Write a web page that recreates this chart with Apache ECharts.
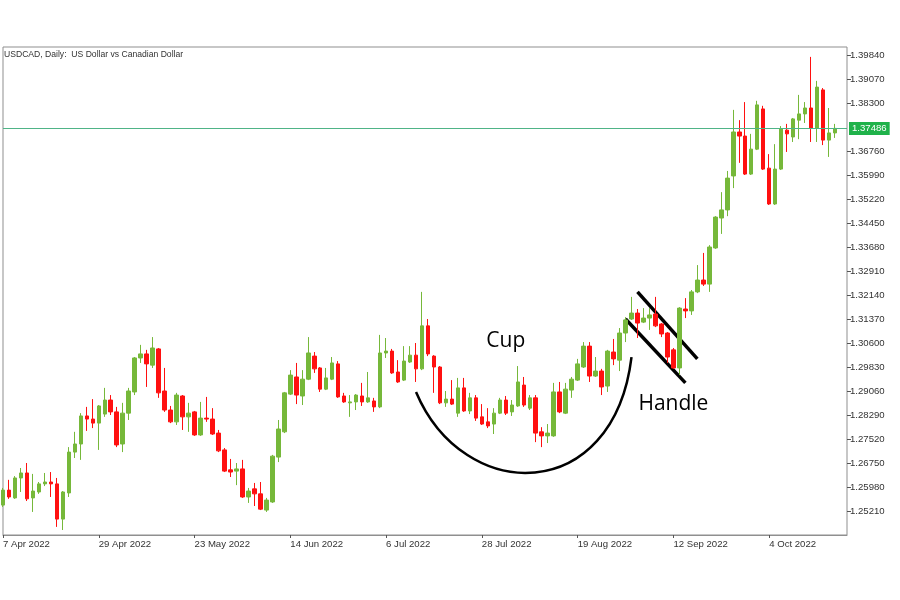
<!DOCTYPE html>
<html>
<head>
<meta charset="utf-8">
<title>USDCAD Daily</title>
<script src="https://cdn.jsdelivr.net/npm/echarts@6/dist/echarts.min.js"></script>
<style>
  html, body { margin: 0; padding: 0; background: #fff; }
  #chart { width: 900px; height: 600px; }
</style>
</head>
<body>
<div id="chart"></div>
<script>
// daily candles, USDCAD from 7 Apr 2022
var opens = [
  1.2540, 1.2588, 1.2563, 1.2627, 1.2643, 1.2563, 1.2582, 1.2608, 1.2614, 1.2608,
  1.2495, 1.2579, 1.2710, 1.2736, 1.2826, 1.2816, 1.2803, 1.2832, 1.2877, 1.2839,
  1.2736, 1.2835, 1.2903, 1.3012, 1.3025, 1.2989, 1.3041, 1.2906, 1.2845, 1.2807,
  1.2890, 1.2823, 1.2839, 1.2765, 1.2819, 1.2816, 1.2771, 1.2717, 1.2653, 1.2649,
  1.2656, 1.2566, 1.2592, 1.2576, 1.2524, 1.2550, 1.2694, 1.2775, 1.2896, 1.2951,
  1.2890, 1.2944, 1.3018, 1.2980, 1.2912, 1.2944, 1.2993, 1.2890, 1.2868, 1.2871,
  1.2890, 1.2871, 1.2874, 1.2855, 1.3028, 1.3034, 1.2967, 1.2941, 1.2999, 1.3021,
  1.2977, 1.3115, 1.3018, 1.2983, 1.2868, 1.2880, 1.2835, 1.2916, 1.2842, 1.2884,
  1.2823, 1.2807, 1.2800, 1.2835, 1.2877, 1.2839, 1.2858, 1.2925, 1.2851, 1.2884,
  1.2775, 1.2762, 1.2762, 1.2903, 1.2835, 1.2909, 1.2941, 1.2983, 1.3050, 1.2954,
  1.2970, 1.2922, 1.3031, 1.3005, 1.3092, 1.3137, 1.3156, 1.3127, 1.3140, 1.3153,
  1.3121, 1.3092, 1.3038, 1.2980, 1.3169, 1.3163, 1.3224, 1.3262, 1.3249, 1.3365,
  1.3461, 1.3487, 1.3596, 1.3737, 1.3724, 1.3602, 1.3682, 1.3811, 1.3621, 1.3506,
  1.3618, 1.3743, 1.3721, 1.3775, 1.3795, 1.3814, 1.3750, 1.3872, 1.3711, 1.3734
];
var closes = [
  1.2588, 1.2566, 1.2627, 1.2643, 1.2560, 1.2585, 1.2608, 1.2614, 1.2608, 1.2495,
  1.2582, 1.2710, 1.2736, 1.2826, 1.2816, 1.2803, 1.2858, 1.2877, 1.2839, 1.2733,
  1.2835, 1.2906, 1.3012, 1.3025, 1.2993, 1.3044, 1.2900, 1.2845, 1.2807, 1.2893,
  1.2823, 1.2835, 1.2765, 1.2819, 1.2816, 1.2768, 1.2714, 1.2649, 1.2646, 1.2656,
  1.2566, 1.2585, 1.2576, 1.2527, 1.2556, 1.2697, 1.2784, 1.2900, 1.2957, 1.2893,
  1.2944, 1.3028, 1.2977, 1.2912, 1.2948, 1.2996, 1.2887, 1.2871, 1.2871, 1.2893,
  1.2871, 1.2884, 1.2855, 1.3028, 1.3034, 1.2964, 1.2935, 1.3002, 1.3021, 1.2977,
  1.3115, 1.3025, 1.2983, 1.2868, 1.2880, 1.2864, 1.2916, 1.2842, 1.2884, 1.2819,
  1.2800, 1.2794, 1.2835, 1.2877, 1.2835, 1.2861, 1.2935, 1.2861, 1.2884, 1.2771,
  1.2762, 1.2771, 1.2903, 1.2839, 1.2912, 1.2944, 1.2993, 1.3050, 1.2954, 1.2970,
  1.2919, 1.3034, 1.3009, 1.3092, 1.3134, 1.3156, 1.3124, 1.3140, 1.3150, 1.3115,
  1.3089, 1.3015, 1.2980, 1.3172, 1.3163, 1.3224, 1.3262, 1.3249, 1.3368, 1.3464,
  1.3487, 1.3589, 1.3737, 1.3724, 1.3602, 1.3682, 1.3824, 1.3618, 1.3506, 1.3618,
  1.3747, 1.3731, 1.3779, 1.3795, 1.3814, 1.3750, 1.3881, 1.3711, 1.3734, 1.37486
];
var lows = [
  1.2534, 1.2560, 1.2560, 1.2582, 1.2553, 1.2518, 1.2576, 1.2601, 1.2566, 1.2470,
  1.2460, 1.2566, 1.2691, 1.2685, 1.2778, 1.2787, 1.2717, 1.2823, 1.2829, 1.2726,
  1.2710, 1.2813, 1.2893, 1.2996, 1.2919, 1.2980, 1.2884, 1.2839, 1.2803, 1.2797,
  1.2781, 1.2775, 1.2762, 1.2762, 1.2807, 1.2765, 1.2710, 1.2646, 1.2630, 1.2604,
  1.2563, 1.2547, 1.2537, 1.2524, 1.2518, 1.2547, 1.2678, 1.2771, 1.2893, 1.2864,
  1.2861, 1.2941, 1.2964, 1.2903, 1.2909, 1.2941, 1.2884, 1.2868, 1.2823, 1.2845,
  1.2858, 1.2868, 1.2839, 1.2851, 1.3012, 1.2961, 1.2932, 1.2938, 1.2996, 1.2935,
  1.2973, 1.3018, 1.2900, 1.2864, 1.2855, 1.2861, 1.2823, 1.2839, 1.2832, 1.2810,
  1.2797, 1.2787, 1.2768, 1.2832, 1.2829, 1.2826, 1.2855, 1.2855, 1.2845, 1.2742,
  1.2726, 1.2739, 1.2759, 1.2835, 1.2832, 1.2884, 1.2938, 1.2980, 1.2935, 1.2951,
  1.2893, 1.2903, 1.2989, 1.2970, 1.3063, 1.3134, 1.3076, 1.3124, 1.3102, 1.3111,
  1.3079, 1.2996, 1.2977, 1.2957, 1.3140, 1.3150, 1.3220, 1.3243, 1.3224, 1.3362,
  1.3410, 1.3467, 1.3557, 1.3638, 1.3599, 1.3599, 1.3679, 1.3615, 1.3503, 1.3503,
  1.3615, 1.3673, 1.3705, 1.3714, 1.3766, 1.3705, 1.3705, 1.3695, 1.3657, 1.3718
];
var highs = [
  1.2595, 1.2621, 1.2633, 1.2659, 1.2675, 1.2640, 1.2614, 1.2643, 1.2646, 1.2627,
  1.2585, 1.2726, 1.2775, 1.2835, 1.2855, 1.2880, 1.2861, 1.2916, 1.2893, 1.2855,
  1.2868, 1.2916, 1.3015, 1.3054, 1.3038, 1.3079, 1.3044, 1.2980, 1.2858, 1.2900,
  1.2893, 1.2868, 1.2842, 1.2871, 1.2887, 1.2851, 1.2781, 1.2723, 1.2688, 1.2675,
  1.2685, 1.2595, 1.2611, 1.2614, 1.2563, 1.2701, 1.2813, 1.2903, 1.2973, 1.2996,
  1.2973, 1.3079, 1.3031, 1.2983, 1.2980, 1.3015, 1.3002, 1.2900, 1.2893, 1.2896,
  1.2932, 1.2967, 1.2884, 1.3086, 1.3076, 1.3041, 1.3005, 1.3050, 1.3050, 1.3060,
  1.3224, 1.3137, 1.3021, 1.2986, 1.2906, 1.2941, 1.2948, 1.2948, 1.2900, 1.2893,
  1.2864, 1.2851, 1.2851, 1.2884, 1.2890, 1.2877, 1.2986, 1.2951, 1.2893, 1.2893,
  1.2790, 1.2800, 1.2932, 1.2935, 1.2932, 1.2951, 1.3009, 1.3063, 1.3063, 1.3015,
  1.2977, 1.3038, 1.3073, 1.3108, 1.3143, 1.3208, 1.3169, 1.3172, 1.3172, 1.3208,
  1.3124, 1.3095, 1.3044, 1.3175, 1.3204, 1.3230, 1.3310, 1.3349, 1.3374, 1.3467,
  1.3544, 1.3612, 1.3808, 1.3775, 1.3833, 1.3731, 1.3837, 1.3821, 1.3666, 1.3698,
  1.3756, 1.3763, 1.3782, 1.3856, 1.3833, 1.3978, 1.3901, 1.3878, 1.3814, 1.3763
];

var yTicks = [1.25210, 1.25980, 1.26750, 1.27520, 1.28290, 1.29060, 1.29830, 1.30600,
  1.31370, 1.32140, 1.32910, 1.33680, 1.34450, 1.35220, 1.35990, 1.36760, 1.38300,
  1.39070, 1.39840];
var lastPrice = 1.37486;

// annotation anchors as [candle index, price]
var cupCurve = [[69.2, 1.2903], [76.5, 1.2540], [101.5, 1.2540], [105.3, 1.3015]];
var handleTop = [[106.3, 1.3224], [115.7, 1.3009]];
var handleBottom = [[104.3, 1.3137], [113.7, 1.2932]];
var cupLabel = [84.3, 1.3066];
var handleLabel = [111.8, 1.2864];

// weekday calendar (forex trades Mon-Fri), a couple of spare slots on the right
var monthNames = ['Jan','Feb','Mar','Apr','May','Jun','Jul','Aug','Sep','Oct','Nov','Dec'];
var dates = [];
var day = new Date(2022, 3, 7);
while (dates.length < 142) {
  if (day.getDay() !== 0 && day.getDay() !== 6) {
    dates.push(day.getDate() + ' ' + monthNames[day.getMonth()] + ' ' + day.getFullYear());
  }
  day.setDate(day.getDate() + 1);
}

var candles = opens.map(function (o, i) {
  return [o, closes[i], lows[i], highs[i]];
});

var font = '"Liberation Sans", Arial, sans-serif';
var chart = echarts.init(document.getElementById('chart'));

chart.setOption({
  animation: false,
  backgroundColor: '#ffffff',
  title: {
    text: 'USDCAD, Daily:  US Dollar vs Canadian Dollar',
    left: 4,
    top: 50,
    padding: 0,
    textStyle: { fontFamily: font, fontSize: 8.6, fontWeight: 'normal', color: '#333' }
  },
  grid: {
    left: 1,
    right: 53,
    top: 47,
    bottom: 65,
    show: true,
    borderColor: '#8f8f8f',
    borderWidth: 1
  },
  xAxis: {
    type: 'category',
    data: dates,
    boundaryGap: false,
    axisLine: { show: true, lineStyle: { color: '#8f8f8f' } },
    axisTick: { show: true, interval: 15, length: 3, lineStyle: { color: '#555' } },
    axisLabel: {
      interval: 15,
      align: 'left',
      margin: 4,
      fontFamily: font,
      fontSize: 9.6,
      color: '#333'
    },
    splitLine: { show: false }
  },
  yAxis: {
    type: 'value',
    position: 'right',
    scale: true,
    min: 1.2444,
    max: 1.40097,
    axisLine: { show: false },
    axisTick: { show: true, length: 4, customValues: yTicks, lineStyle: { color: '#555' } },
    axisLabel: {
      customValues: yTicks,
      margin: 3,
      fontFamily: font,
      fontSize: 9.6,
      color: '#333',
      formatter: function (v) { return v.toFixed(5); }
    },
    splitLine: { show: false }
  },
  series: [{
    type: 'candlestick',
    data: candles,
    barWidth: 4,
    itemStyle: {
      color: '#76b83a',
      color0: '#ff1010',
      borderColor: '#76b83a',
      borderColor0: '#ff1010',
      borderWidth: 1
    },
    markLine: {
      silent: true,
      symbol: 'none',
      precision: 5,
      lineStyle: { color: '#4fb487', width: 1, type: 'solid' },
      label: {
        position: 'end',
        distance: 2,
        formatter: function () { return lastPrice.toFixed(5); },
        backgroundColor: '#1fb24a',
        color: '#fff',
        fontFamily: font,
        fontSize: 9.6,
        padding: [2, 3, 1, 3]
      },
      data: [{ yAxis: lastPrice }]
    }
  }]
});

function px(pt) {
  return chart.convertToPixel({ gridIndex: 0 }, pt);
}

function drawNotes() {
  var c0 = px(cupCurve[0]), c1 = px(cupCurve[1]), c2 = px(cupCurve[2]), c3 = px(cupCurve[3]);
  var t0 = px(handleTop[0]), t1 = px(handleTop[1]);
  var b0 = px(handleBottom[0]), b1 = px(handleBottom[1]);
  var cl = px(cupLabel), hl = px(handleLabel);
  var noteFont = '21px "Open Sans", "Noto Sans", sans-serif';
  chart.setOption({
    graphic: [
      {
        type: 'bezierCurve', silent: true,
        shape: { x1: c0[0], y1: c0[1], cpx1: c1[0], cpy1: c1[1], cpx2: c2[0], cpy2: c2[1], x2: c3[0], y2: c3[1] },
        style: { stroke: '#000', lineWidth: 2.5, fill: null }
      },
      {
        type: 'line', silent: true,
        shape: { x1: t0[0], y1: t0[1], x2: t1[0], y2: t1[1] },
        style: { stroke: '#000', lineWidth: 3.5 }
      },
      {
        type: 'line', silent: true,
        shape: { x1: b0[0], y1: b0[1], x2: b1[0], y2: b1[1] },
        style: { stroke: '#000', lineWidth: 3.5 }
      },
      {
        type: 'text', silent: true,
        style: { text: 'Cup', x: cl[0], y: cl[1], font: noteFont, fill: '#000', align: 'center', verticalAlign: 'middle' }
      },
      {
        type: 'text', silent: true,
        style: { text: 'Handle', x: hl[0], y: hl[1], font: noteFont, fill: '#000', align: 'center', verticalAlign: 'middle' }
      }
    ]
  });
}

drawNotes();
</script>
</body>
</html>
